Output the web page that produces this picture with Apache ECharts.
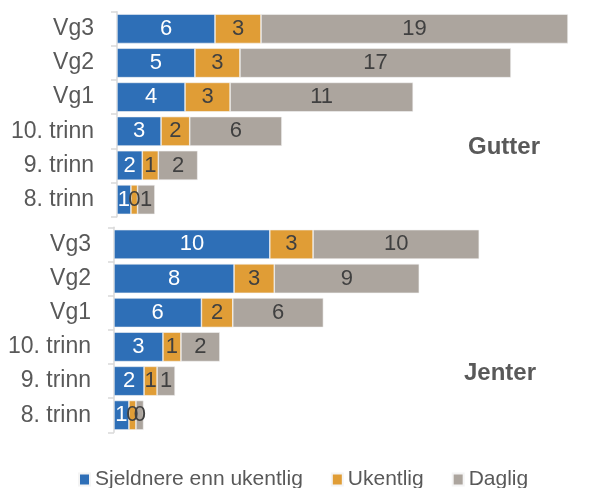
<!DOCTYPE html>
<html lang="no">
<head>
    <meta charset="UTF-8">
    <title>Gutter og jenter</title>
    <script src="https://cdn.jsdelivr.net/npm/echarts@6/dist/echarts.min.js"></script>
    <style>
        html, body { margin: 0; padding: 0; background: #fff; }
        #main { width: 592px; height: 488px; }
    </style>
</head>
<body>
<div id="main"></div>
<script>
    // kategorier (øverst først)
    let categories = ["Vg3", "Vg2", "Vg1", "10. trinn", "9. trinn", "8. trinn"];
    let seriesNames = ["Sjeldnere enn ukentlig", "Ukentlig", "Daglig"];

    // Gutter
    let gutterSjeldnere = [6.05, 4.81, 4.20, 2.72, 1.56, 0.86];
    let gutterUkentlig  = [2.84, 2.78, 2.78, 1.77, 0.99, 0.41];
    let gutterDaglig    = [18.95, 16.73, 11.30, 5.69, 2.43, 1.07];

    // Jenter
    let jenterSjeldnere = [9.80, 7.55, 5.50, 3.08, 1.89, 0.94];
    let jenterUkentlig  = [2.72, 2.53, 1.97, 1.13, 0.82, 0.44];
    let jenterDaglig    = [10.45, 9.12, 5.70, 2.45, 1.13, 0.48];

    let colors = ["#2e6fb7", "#e09d36", "#aca59e"];
    let textGrey = "#595959";

    function makeSeries(name, data, idx, color) {
        return {
            name: name,
            type: "bar",
            stack: "s" + idx,
            xAxisIndex: idx,
            yAxisIndex: idx,
            barCategoryGap: "14%",
            data: data,
            itemStyle: { color: color, borderColor: "#f4f4f4", borderWidth: 0.6 },
            label: {
                show: true,
                position: "inside",
                fontFamily: "Liberation Sans, Arial",
                fontSize: 22,
                color: color === colors[0] ? "#ffffff" : "#404040",
                formatter: p => Math.round(p.value)
            }
        };
    }

    function catAxis(idx) {
        return {
            type: "category",
            gridIndex: idx,
            data: categories,
            inverse: true,
            axisLine: { lineStyle: { color: "#d9d9d9", width: 1.5 } },
            axisTick: { show: true, length: 6, lineStyle: { color: "#d9d9d9", width: 1.5 } },
            axisLabel: { fontFamily: "Liberation Sans, Arial", fontSize: 23, color: textGrey, margin: 23 }
        };
    }

    let chart = echarts.init(document.getElementById("main"));
    chart.setOption({
        animation: false,
        color: colors,
        title: [
            { text: "Gutter", left: 468, top: 135, padding: 0,
              textStyle: { fontFamily: "Liberation Sans, Arial", fontSize: 24, fontWeight: "bold", color: textGrey } },
            { text: "Jenter", left: 464, top: 361, padding: 0,
              textStyle: { fontFamily: "Liberation Sans, Arial", fontSize: 24, fontWeight: "bold", color: textGrey } }
        ],
        legend: {
            data: seriesNames,
            left: 78,
            top: 469,
            icon: "rect",
            itemWidth: 11,
            itemHeight: 12,
            itemGap: 28,
            padding: 0,
            textStyle: { fontFamily: "Liberation Sans, Arial", fontSize: 21, color: textGrey }
        },
        grid: [
            { left: 117, top: 11.7, width: 463, height: 205 },
            { left: 114, top: 227.3, width: 466, height: 205 }
        ],
        xAxis: [
            { type: "value", gridIndex: 0, min: 0, max: 463 / 16.2, show: false },
            { type: "value", gridIndex: 1, min: 0, max: 466 / 15.9, show: false }
        ],
        yAxis: [catAxis(0), catAxis(1)],
        series: [
            makeSeries(seriesNames[0], gutterSjeldnere, 0, colors[0]),
            makeSeries(seriesNames[1], gutterUkentlig, 0, colors[1]),
            makeSeries(seriesNames[2], gutterDaglig, 0, colors[2]),
            makeSeries(seriesNames[0], jenterSjeldnere, 1, colors[0]),
            makeSeries(seriesNames[1], jenterUkentlig, 1, colors[1]),
            makeSeries(seriesNames[2], jenterDaglig, 1, colors[2])
        ]
    });
</script>
</body>
</html>
